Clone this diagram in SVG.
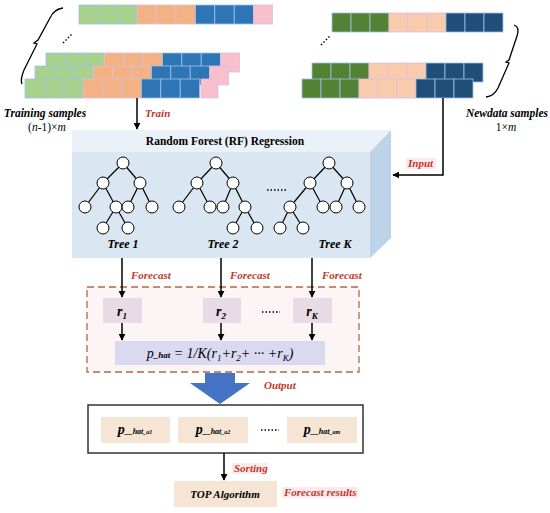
<svg xmlns="http://www.w3.org/2000/svg" width="550" height="513" viewBox="0 0 550 513">
<defs>
<style>
.g1{fill:#a9d18e;stroke:#9dc3e6;stroke-width:0.8}
.p1{fill:#f4b183;stroke:#d9c0e0;stroke-width:0.8}
.b1{fill:#2e75b6;stroke:#9dc3e6;stroke-width:0.8}
.k1{fill:#f8c0cc;stroke:#d9c0e0;stroke-width:0.8}
.g2{fill:#548235;stroke:#9dc3e6;stroke-width:0.8}
.p2{fill:#f8cbad;stroke:#d9c0e0;stroke-width:0.8}
.b2{fill:#1f4e79;stroke:#9dc3e6;stroke-width:0.8}
.t{font-family:"Liberation Serif",serif;font-weight:bold;font-style:italic;fill:#000}
.red{font-family:"Liberation Serif",serif;font-weight:bold;font-style:italic;fill:#c0392b;font-size:11px}
.ln{stroke:#000;stroke-width:1.5;fill:none}
.node{fill:#fff;stroke:#000;stroke-width:1}
.edge{stroke:#000;stroke-width:1.2}
.dots{stroke:#000;stroke-width:1.5;stroke-dasharray:1.5 2;fill:none}
</style>
<marker id="ah" viewBox="0 0 10 10" refX="9" refY="5" markerWidth="7" markerHeight="7" markerUnits="userSpaceOnUse" orient="auto">
<path d="M0,0 L10,5 L0,10 z" fill="#000"/>
</marker>
</defs>
<rect width="550" height="513" fill="#fff"/>

<!-- Training samples -->
<g id="training">
<g transform="translate(79,5)">
<rect class="g1" x="0" y="0" width="19.4" height="19"/><rect class="g1" x="19.4" y="0" width="19.4" height="19"/><rect class="g1" x="38.8" y="0" width="19.4" height="19"/>
<rect class="p1" x="58.2" y="0" width="19.4" height="19"/><rect class="p1" x="77.6" y="0" width="19.4" height="19"/><rect class="p1" x="97" y="0" width="19.4" height="19"/>
<rect class="b1" x="116.4" y="0" width="19.4" height="19"/><rect class="b1" x="135.8" y="0" width="19.4" height="19"/><rect class="b1" x="155.2" y="0" width="19.4" height="19"/>
<rect class="k1" x="174.6" y="0" width="19" height="19"/>
</g>
<g transform="translate(46,53)">
<rect class="g1" x="0" y="0" width="19.4" height="19"/><rect class="g1" x="19.4" y="0" width="19.4" height="19"/><rect class="g1" x="38.8" y="0" width="19.4" height="19"/>
<rect class="p1" x="58.2" y="0" width="19.4" height="19"/><rect class="p1" x="77.6" y="0" width="19.4" height="19"/><rect class="p1" x="97" y="0" width="19.4" height="19"/>
<rect class="b1" x="116.4" y="0" width="19.4" height="19"/><rect class="b1" x="135.8" y="0" width="19.4" height="19"/><rect class="b1" x="155.2" y="0" width="19.4" height="19"/>
<rect class="k1" x="174.6" y="0" width="19" height="19"/>
</g>
<g transform="translate(35,66)">
<rect class="g1" x="0" y="0" width="19.4" height="19"/><rect class="g1" x="19.4" y="0" width="19.4" height="19"/><rect class="g1" x="38.8" y="0" width="19.4" height="19"/>
<rect class="p1" x="58.2" y="0" width="19.4" height="19"/><rect class="p1" x="77.6" y="0" width="19.4" height="19"/><rect class="p1" x="97" y="0" width="19.4" height="19"/>
<rect class="b1" x="116.4" y="0" width="19.4" height="19"/><rect class="b1" x="135.8" y="0" width="19.4" height="19"/><rect class="b1" x="155.2" y="0" width="19.4" height="19"/>
<rect class="k1" x="174.6" y="0" width="19" height="19"/>
</g>
<g transform="translate(25,79)">
<rect class="g1" x="0" y="0" width="19.4" height="19"/><rect class="g1" x="19.4" y="0" width="19.4" height="19"/><rect class="g1" x="38.8" y="0" width="19.4" height="19"/>
<rect class="p1" x="58.2" y="0" width="19.4" height="19"/><rect class="p1" x="77.6" y="0" width="19.4" height="19"/><rect class="p1" x="97" y="0" width="19.4" height="19"/>
<rect class="b1" x="116.4" y="0" width="19.4" height="19"/><rect class="b1" x="135.8" y="0" width="19.4" height="19"/><rect class="b1" x="155.2" y="0" width="19.4" height="19"/>
<rect class="k1" x="176" y="0" width="17" height="19"/>
</g>
<path d="M63,8 Q54,9 50,18 L38,40 L34,43 L37,44 L24,70 Q20,80 22,84" fill="none" stroke="#000" stroke-width="1.3"/>
<line class="dots" x1="63" y1="43" x2="72" y2="34"/>
<text class="t" x="45" y="117" font-size="11.5" text-anchor="middle">Training samples</text>
<text x="47" y="131" font-family="Liberation Serif,serif" font-size="11.5" text-anchor="middle">(<tspan font-style="italic">n</tspan>-1)×<tspan font-style="italic">m</tspan></text>
</g>

<!-- Newdata samples -->
<g id="newdata">
<g transform="translate(332,13)">
<rect class="g2" x="0" y="0" width="19" height="19"/><rect class="g2" x="19" y="0" width="19" height="19"/><rect class="g2" x="38" y="0" width="19" height="19"/>
<rect class="p2" x="57" y="0" width="19" height="19"/><rect class="p2" x="76" y="0" width="19" height="19"/><rect class="p2" x="95" y="0" width="19" height="19"/>
<rect class="b2" x="114" y="0" width="19" height="19"/><rect class="b2" x="133" y="0" width="19" height="19"/><rect class="b2" x="152" y="0" width="19" height="19"/>
</g>
<g transform="translate(312,63)">
<rect class="g2" x="0" y="0" width="19" height="19"/><rect class="g2" x="19" y="0" width="19" height="19"/><rect class="g2" x="38" y="0" width="19" height="19"/>
<rect class="p2" x="57" y="0" width="19" height="19"/><rect class="p2" x="76" y="0" width="19" height="19"/><rect class="p2" x="95" y="0" width="19" height="19"/>
<rect class="b2" x="114" y="0" width="19" height="19"/><rect class="b2" x="133" y="0" width="19" height="19"/><rect class="b2" x="152" y="0" width="19" height="19"/>
</g>
<g transform="translate(302,79)">
<rect class="g2" x="0" y="0" width="19" height="19"/><rect class="g2" x="19" y="0" width="19" height="19"/><rect class="g2" x="38" y="0" width="19" height="19"/>
<rect class="p2" x="57" y="0" width="19" height="19"/><rect class="p2" x="76" y="0" width="19" height="19"/><rect class="p2" x="95" y="0" width="19" height="19"/>
<rect class="b2" x="114" y="0" width="19" height="19"/><rect class="b2" x="133" y="0" width="19" height="19"/><rect class="b2" x="152" y="0" width="19" height="19"/>
</g>
<path d="M514,25 Q520,27 517,36 L509,60 L506,62 L509,63 L498,88 Q494,96 486,97" fill="none" stroke="#000" stroke-width="1.3"/>
<line class="dots" x1="321" y1="45" x2="330" y2="36"/>
<text class="t" x="507" y="117" font-size="11.5" text-anchor="middle">Newdata samples</text>
<text x="506" y="131" font-family="Liberation Serif,serif" font-size="11.5" text-anchor="middle">1×<tspan font-style="italic">m</tspan></text>
</g>

<!-- RF box -->
<g id="rf">
<polygon points="370,152 391,130 391,238 370,258" fill="#bcd3ea"/>
<polygon points="72,130 391,130 370,152 72,152" fill="#eaf1f9"/>
<rect x="72" y="152" width="298" height="106" fill="#dae6f2"/>
<text x="225" y="145" font-family="Liberation Serif,serif" font-weight="bold" font-size="11.5" text-anchor="middle">Random Forest (RF) Regression</text>
<g id="tree1">
<line class="edge" x1="123" y1="163" x2="103" y2="183"/><line class="edge" x1="123" y1="163" x2="140" y2="183"/>
<line class="edge" x1="103" y1="183" x2="85" y2="207"/><line class="edge" x1="103" y1="183" x2="116" y2="207"/>
<line class="edge" x1="140" y1="183" x2="128" y2="207"/><line class="edge" x1="140" y1="183" x2="152" y2="207"/>
<line class="edge" x1="116" y1="207" x2="103" y2="228"/><line class="edge" x1="116" y1="207" x2="128" y2="228"/>
<circle class="node" cx="123" cy="163" r="6"/><circle class="node" cx="103" cy="183" r="6"/><circle class="node" cx="140" cy="183" r="6"/>
<circle class="node" cx="85" cy="207" r="6"/><circle class="node" cx="116" cy="207" r="6"/><circle class="node" cx="128" cy="207" r="6"/><circle class="node" cx="152" cy="207" r="6"/>
<circle class="node" cx="103" cy="228" r="6"/><circle class="node" cx="128" cy="228" r="6"/>
<text class="t" x="123" y="248" font-size="12" text-anchor="middle">Tree 1</text>
</g>
<g id="tree2">
<line class="edge" x1="216" y1="163" x2="197" y2="183"/><line class="edge" x1="216" y1="163" x2="233" y2="183"/>
<line class="edge" x1="197" y1="183" x2="179" y2="207"/><line class="edge" x1="197" y1="183" x2="210" y2="207"/>
<line class="edge" x1="233" y1="183" x2="223" y2="207"/><line class="edge" x1="233" y1="183" x2="245" y2="207"/>
<line class="edge" x1="245" y1="207" x2="233" y2="228"/><line class="edge" x1="245" y1="207" x2="257" y2="228"/>
<circle class="node" cx="216" cy="163" r="6"/><circle class="node" cx="197" cy="183" r="6"/><circle class="node" cx="233" cy="183" r="6"/>
<circle class="node" cx="179" cy="207" r="6"/><circle class="node" cx="210" cy="207" r="6"/><circle class="node" cx="223" cy="207" r="6"/><circle class="node" cx="245" cy="207" r="6"/>
<circle class="node" cx="233" cy="228" r="6"/><circle class="node" cx="257" cy="228" r="6"/>
<text class="t" x="223" y="248" font-size="12" text-anchor="middle">Tree 2</text>
</g>
<line class="dots" x1="267" y1="190" x2="286" y2="190"/>
<g id="treeK">
<line class="edge" x1="329" y1="163" x2="310" y2="183"/><line class="edge" x1="329" y1="163" x2="347" y2="183"/>
<line class="edge" x1="310" y1="183" x2="290" y2="207"/><line class="edge" x1="310" y1="183" x2="323" y2="207"/>
<line class="edge" x1="347" y1="183" x2="336" y2="207"/><line class="edge" x1="347" y1="183" x2="359" y2="207"/>
<line class="edge" x1="290" y1="207" x2="280" y2="228"/><line class="edge" x1="290" y1="207" x2="303" y2="228"/>
<circle class="node" cx="329" cy="163" r="6"/><circle class="node" cx="310" cy="183" r="6"/><circle class="node" cx="347" cy="183" r="6"/>
<circle class="node" cx="290" cy="207" r="6"/><circle class="node" cx="323" cy="207" r="6"/><circle class="node" cx="336" cy="207" r="6"/><circle class="node" cx="359" cy="207" r="6"/>
<circle class="node" cx="280" cy="228" r="6"/><circle class="node" cx="303" cy="228" r="6"/>
<text class="t" x="335" y="248" font-size="12" text-anchor="middle">Tree K</text>
</g>
</g>

<!-- Aggregation dashed box -->
<g id="aggregate">
<rect x="87" y="287" width="272" height="85" fill="#fdf4f6" stroke="#b06a45" stroke-width="1.3" stroke-dasharray="7 4"/>
</g>

<!-- Big output arrow -->
<g id="outarrow">
<polygon points="205,373 235,373 235,383 250,383 220,404 190,383 205,383" fill="#4472c4"/>
</g>

<g id="r1"><rect x="103" y="298" width="39" height="25" fill="#e8dbe6"/>
<text x="122" y="316" font-family="Liberation Serif,serif" font-style="italic" font-weight="bold" font-size="14" text-anchor="middle">r<tspan font-size="9" dy="3">1</tspan></text></g>
<g id="r2"><rect x="203" y="298" width="38" height="25" fill="#e8dbe6"/>
<text x="221" y="316" font-family="Liberation Serif,serif" font-style="italic" font-weight="bold" font-size="14" text-anchor="middle">r<tspan font-size="9" dy="3">2</tspan></text></g>
<line class="dots" x1="262" y1="312" x2="280" y2="312"/>
<g id="rK"><rect x="293" y="298" width="39" height="25" fill="#e8dbe6"/>
<text x="312" y="316" font-family="Liberation Serif,serif" font-style="italic" font-weight="bold" font-size="14" text-anchor="middle">r<tspan font-size="9" dy="3">K</tspan></text></g>

<g id="phat"><rect x="115" y="341" width="210" height="24" fill="#d9d9f0"/>
<text x="220" y="358" font-family="Liberation Serif,serif" font-style="italic" font-size="14" text-anchor="middle">p<tspan font-size="9" font-weight="bold">_hat</tspan> = 1/K(r<tspan font-size="9" dy="3">1</tspan><tspan dy="-3">+r</tspan><tspan font-size="9" dy="3">2</tspan><tspan dy="-3">+ ··· +r</tspan><tspan font-size="9" dy="3">K</tspan><tspan dy="-3">)</tspan></text></g>

<g id="results">
<rect x="88" y="405" width="275" height="48" fill="#fff" stroke="#333" stroke-width="1.5"/>
<rect x="101" y="417" width="69" height="26" fill="#f6e4d4"/>
<text x="135" y="434" class="t" font-size="14" text-anchor="middle">p<tspan font-size="8">__hat</tspan><tspan font-size="6">_a1</tspan></text>
<rect x="178" y="417" width="70" height="26" fill="#f6e4d4"/>
<text x="213" y="434" class="t" font-size="14" text-anchor="middle">p<tspan font-size="8">__hat</tspan><tspan font-size="6">_a2</tspan></text>
<line class="dots" x1="261" y1="430" x2="279" y2="430"/>
<rect x="287" y="417" width="70" height="26" fill="#f6e4d4"/>
<text x="322" y="434" class="t" font-size="14" text-anchor="middle">p<tspan font-size="8">__hat</tspan><tspan font-size="6">_am</tspan></text>
</g>

<g id="top"><rect x="174" y="481" width="103" height="26" fill="#f6e4d4"/>
<text x="225" y="498" class="t" font-size="11" text-anchor="middle">TOP Algorithm</text></g>

<!-- Connectors -->
<g id="connectors">
<line class="ln" x1="137" y1="98" x2="137" y2="129" marker-end="url(#ah)"/>
<polyline class="ln" points="443,98 443,175 393,175" marker-end="url(#ah)"/>
<line class="ln" x1="122" y1="258" x2="122" y2="297" marker-end="url(#ah)"/>
<line class="ln" x1="221" y1="258" x2="221" y2="297" marker-end="url(#ah)"/>
<line class="ln" x1="312" y1="258" x2="312" y2="297" marker-end="url(#ah)"/>
<line class="ln" x1="122" y1="323" x2="122" y2="340" marker-end="url(#ah)"/>
<line class="ln" x1="221" y1="323" x2="221" y2="340" marker-end="url(#ah)"/>
<line class="ln" x1="312" y1="323" x2="312" y2="340" marker-end="url(#ah)"/>
<line class="ln" x1="224" y1="453" x2="224" y2="480" marker-end="url(#ah)"/>
</g>

<!-- Red labels -->
<text class="red" x="145" y="117">Train</text>
<rect x="406" y="158" width="30" height="11" fill="#fde8ee"/>
<text class="red" x="408" y="167">Input</text>
<text class="red" x="131" y="279">Forecast</text>
<text class="red" x="230" y="279">Forecast</text>
<text class="red" x="322" y="279">Forecast</text>
<text class="red" x="264" y="389">Output</text>
<rect x="232" y="463" width="36" height="11" fill="#fde8ee"/>
<text class="red" x="234" y="472">Sorting</text>
<rect x="282" y="487" width="76" height="11" fill="#fde8ee"/>
<text class="red" x="284" y="496">Forecast results</text>
</svg>
